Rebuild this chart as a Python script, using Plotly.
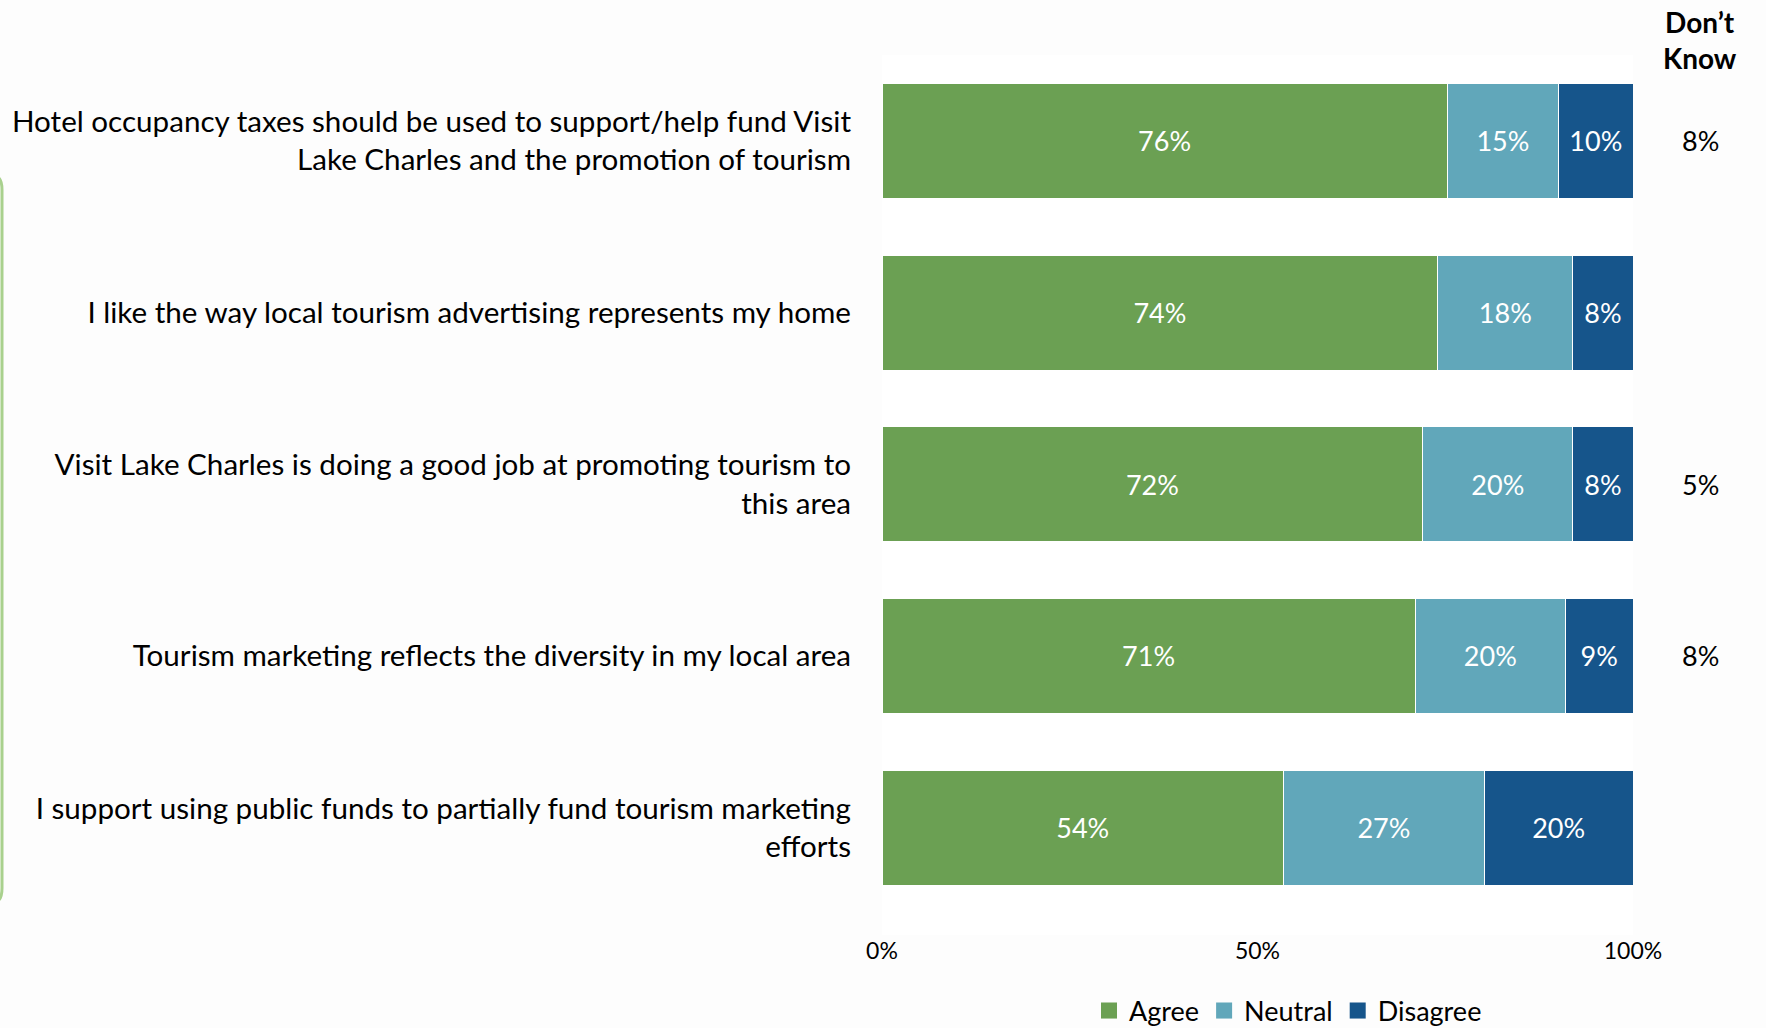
import plotly.graph_objects as go

categories = [
    "Hotel occupancy taxes should be used to support/help fund Visit<br>Lake Charles and the promotion of tourism",
    "I like the way local tourism advertising represents my home",
    "Visit Lake Charles is doing a good job at promoting tourism to<br>this area",
    "Tourism marketing reflects the diversity in my local area",
    "I support using public funds to partially fund tourism marketing<br>efforts",
]
agree = [76, 74, 72, 71, 54]
neutral = [15, 18, 20, 20, 27]
disagree = [10, 8, 8, 9, 20]
dont_know = [8, None, 5, 8, None]
x_ticks = [0, 50, 100]
x_ticklabels = ["0%", "50%", "100%"]

FONT = "Lato"
W, H = 1766, 1028
ML, MR, MT, MB = 882, 133, 55, 93
PW, PH = W - ML - MR, H - MT - MB

series = [("Agree", agree, "#6BA053"), ("Neutral", neutral, "#61A7BA"), ("Disagree", disagree, "#16558B")]


def px_x(p):
    return (p - ML) / PW


def px_y(p):
    return (H - MB - p) / PH


fig = go.Figure()
for name, vals, col in series:
    fig.add_trace(go.Bar(
        y=categories, x=vals, name=name, orientation="h", showlegend=False,
        marker=dict(color=col, line=dict(color="white", width=1)),
        text=vals, texttemplate="%{text}%", textposition="inside",
        insidetextanchor="middle", textangle=0,
        textfont=dict(color="white", size=27, family=FONT),
    ))
# legend entries with larger square swatches
for name, vals, col in series:
    fig.add_trace(go.Scatter(
        x=[None], y=[None], mode="markers", name=name, showlegend=True,
        marker=dict(symbol="square", size=18, color=col),
    ))

# Don't Know column
DK_X = px_x(1700)
for cat, v in zip(categories, dont_know):
    if v is not None:
        fig.add_annotation(x=DK_X, xref="paper", y=cat, yref="y",
                           text=f"{v}%", showarrow=False, xanchor="center", yanchor="middle",
                           font=dict(size=27, family=FONT, color="black"))
fig.add_annotation(x=DK_X, xref="paper", y=px_y(40), yref="paper",
                   text="<b>Don’t<br>Know</b>", showarrow=False, xanchor="center", yanchor="middle",
                   font=dict(size=28, family=FONT, color="black"))

# decorative green edge line at left
fig.add_shape(type="path", xref="paper", yref="paper",
              path=f"M {px_x(-6)},{px_y(176)} Q {px_x(2)},{px_y(176)} {px_x(2)},{px_y(190)} "
                   f"L {px_x(2)},{px_y(888)} Q {px_x(2)},{px_y(902)} {px_x(-6)},{px_y(902)}",
              line=dict(color="#A9D18E", width=3))

fig.update_layout(
    width=W, height=H,
    margin=dict(l=ML, r=MR, t=MT, b=MB, autoexpand=False),
    barmode="stack", barnorm="percent", bargap=0.33,
    plot_bgcolor="white", paper_bgcolor="#FDFDFD",
    font=dict(family=FONT, color="black"),
    showlegend=True,
    legend=dict(orientation="h", x=px_x(1288), xanchor="center", y=px_y(1011), yanchor="middle",
                font=dict(size=27, family=FONT), traceorder="normal", itemwidth=30,
                bgcolor="rgba(0,0,0,0)"),
)
fig.update_xaxes(range=[0, 100], tickvals=x_ticks, ticktext=x_ticklabels, showgrid=False,
                 zeroline=False, showline=False, tickfont=dict(size=23, family=FONT), ticks="")
fig.update_yaxes(range=[4.625, -0.5], showgrid=False, zeroline=False, showline=False, ticks="",
                 tickfont=dict(size=29.6, family=FONT), ticklabelstandoff=30)

fig.write_html("out.html", config={"displayModeBar": False},
               post_script="document.body.style.margin='0';")
